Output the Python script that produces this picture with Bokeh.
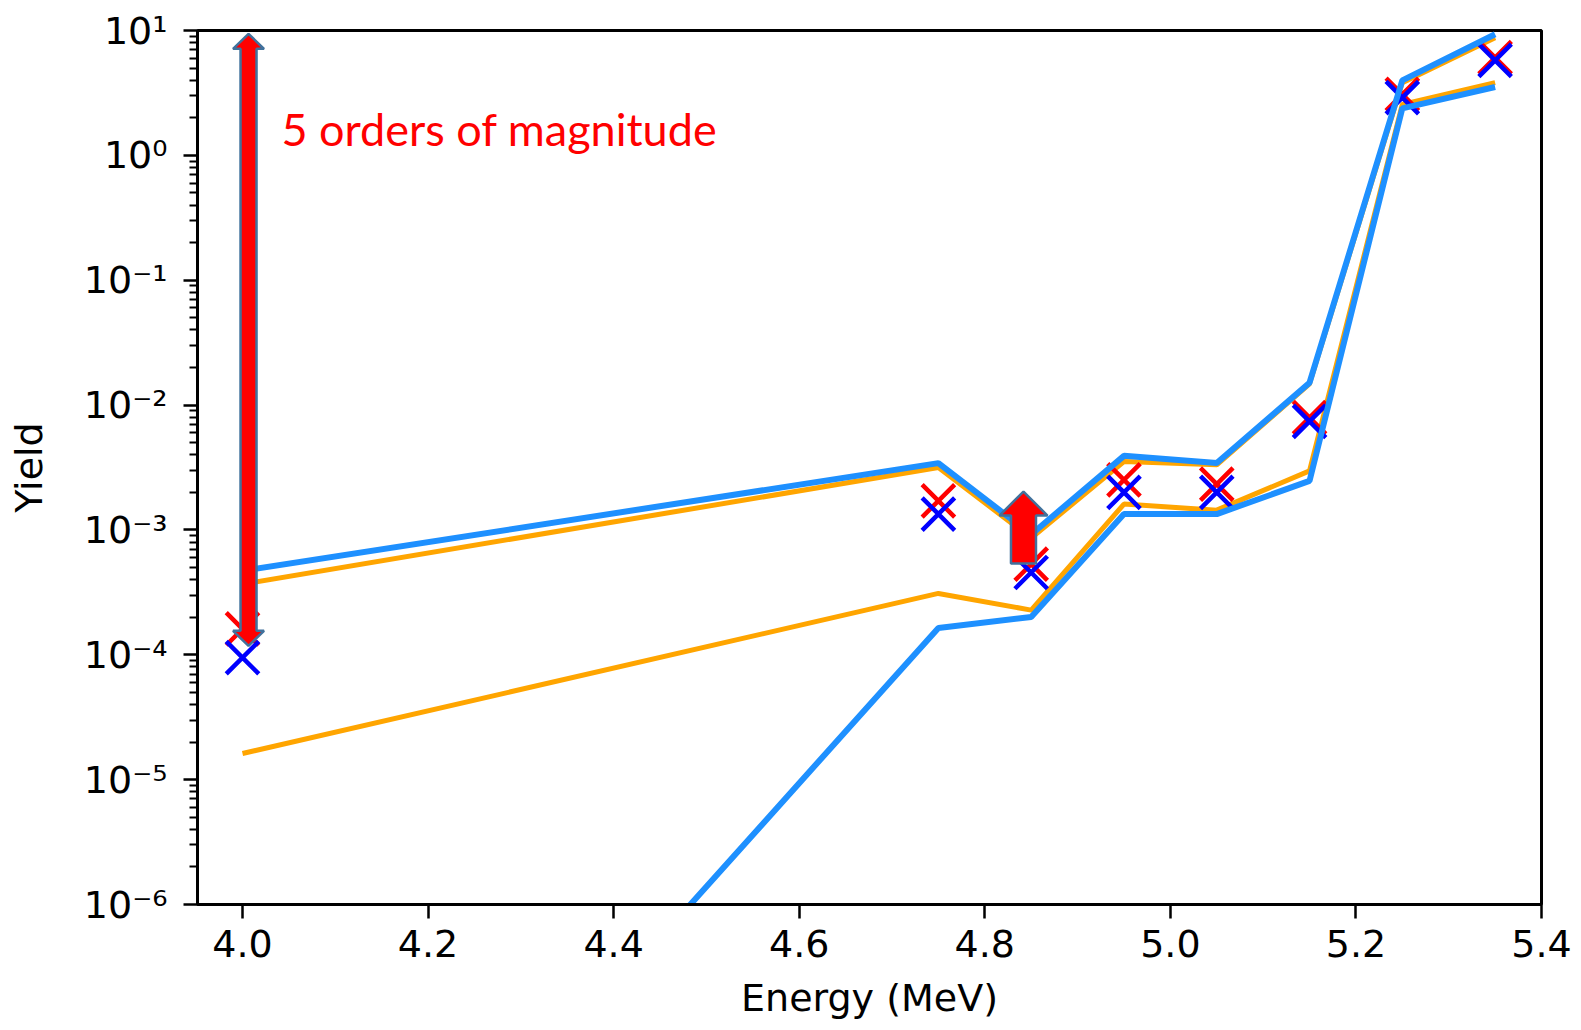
import numpy as np
from bokeh.plotting import figure
from bokeh.models import FixedTicker, CustomJSTickFormatter, Label, ColumnDataSource
from bokeh.embed import file_html
from bokeh.resources import INLINE

# ---------------- data ----------------
energy = [4.0, 4.75, 4.85, 4.95, 5.05, 5.15, 5.25, 5.35]
orange_upper = [3.68e-4, 3.16e-3, 8.6e-4, 3.53e-3, 3.32e-3, 1.48e-2, 3.82, 8.75]
blue_upper = [4.7e-4, 3.43e-3, 9.2e-4, 3.92e-3, 3.43e-3, 1.51e-2, 3.99, 9.33]
orange_lower = [1.62e-5, 3.1e-4, 2.28e-4, 1.61e-3, 1.44e-3, 2.97e-3, 2.56, 3.82]
blue_lower = [1.0e-10, 1.64e-4, 2.01e-4, 1.34e-3, 1.34e-3, 2.47e-3, 2.38, 3.53]
red_x = [1.61e-4, 1.71e-3, 5.32e-4, 2.52e-3, 2.33e-3, 7.94e-3, 3.08, 6.06]
blue_x = [9.5e-5, 1.34e-3, 4.56e-4, 2.0e-3, 2.0e-3, 7.4e-3, 2.9, 5.77]

x_ticks = [4.0, 4.2, 4.4, 4.6, 4.8, 5.0, 5.2, 5.4]
y_ticks = [1e-6, 1e-5, 1e-4, 1e-3, 1e-2, 1e-1, 1e0, 1e1]
y_minor = [k * 10.0 ** n for n in range(-6, 1) for k in range(2, 10)]

annotation_text = "5 orders of magnitude"
annotation_x = 4.042
annotation_y = 1.63

# arrows: (x, y_from, y_to) ; double-headed big arrow, single small arrow
big_arrow = (4.0065, 1.18e-4, 9.4)
small_arrow = (4.8417, 5.38e-4, 2.03e-3)

# ---------------- layout ----------------
W, H = 1581, 1030
LEFT, RIGHT, TOP, BOTTOM = 197, 40, 30, 126
x0, x1 = 3.9515, 5.4
y0, y1 = 1e-6, 1e1
frame_w = W - LEFT - RIGHT
frame_h = H - TOP - BOTTOM
px_per_x = frame_w / (x1 - x0)
px_per_dec = frame_h / (np.log10(y1) - np.log10(y0))

p = figure(width=W, height=H, x_range=(x0, x1), y_range=(y0, y1),
           y_axis_type="log", output_backend="svg", toolbar_location=None,
           min_border_left=LEFT, min_border_right=RIGHT,
           min_border_top=TOP, min_border_bottom=BOTTOM,
           background_fill_color="white", border_fill_color="white")
p.grid.visible = False
p.outline_line_color = "black"
p.outline_line_width = 3

FONT = "DejaVu Sans"
for ax in (p.xaxis[0], p.yaxis[0]):
    ax.axis_line_width = 3
    ax.major_tick_line_width = 2.5
    ax.minor_tick_line_width = 2
    ax.major_tick_out = 14
    ax.major_tick_in = 0
    ax.minor_tick_out = 8
    ax.minor_tick_in = 0
    ax.major_label_text_font = FONT
    ax.major_label_text_font_size = "38px"
    ax.major_label_text_color = "black"
    ax.axis_label_text_font = FONT
    ax.axis_label_text_font_size = "38px"
    ax.axis_label_text_font_style = "normal"
    ax.axis_label_text_color = "black"

p.xaxis.ticker = FixedTicker(ticks=x_ticks)
p.xaxis.minor_tick_line_color = None
p.xaxis.formatter = CustomJSTickFormatter(code="return tick.toFixed(1);")
p.xaxis.axis_label = "Energy (MeV)"
p.xaxis.major_label_standoff = 11
p.xaxis.axis_label_standoff = 16

p.yaxis.ticker = FixedTicker(ticks=y_ticks, minor_ticks=y_minor)
p.yaxis.formatter = CustomJSTickFormatter(code="""
const m = {"-":"\u207b","0":"\u2070","1":"\u00b9","2":"\u00b2","3":"\u00b3","4":"\u2074","5":"\u2075","6":"\u2076","7":"\u2077","8":"\u2078","9":"\u2079"};
const e = Math.round(Math.log10(tick));
return "10" + String(e).split("").map(c => m[c]).join("");
""")
p.yaxis.axis_label = "Yield"
p.yaxis.major_label_standoff = 16
p.yaxis.axis_label_standoff = 30

ORANGE = "#ffa500"
BLUE = "#1e90ff"

p.line(energy, orange_upper, line_color=ORANGE, line_width=5)
p.line(energy, orange_lower, line_color=ORANGE, line_width=5)
p.scatter(energy, red_x, marker="x", size=46, line_color="#ff0000", line_width=4.5)
p.scatter(energy, blue_x, marker="x", size=46, line_color="#0000ff", line_width=4.5)
p.line(energy, blue_upper, line_color=BLUE, line_width=6)
p.line(energy, blue_lower, line_color=BLUE, line_width=6)


def arrow_polygon(x, ya, yb, shaft_w, head_w, head_l, double):
    """Polygon (data coords) for a vertical block arrow from ya to yb; sizes in px."""
    la, lb = np.log10(ya), np.log10(yb)
    sgn = 1.0 if lb > la else -1.0
    dl = head_l / px_per_dec * sgn
    sx = shaft_w / 2 / px_per_x
    hx = head_w / 2 / px_per_x
    if double:
        xs = [x - sx, x - sx, x - hx, x, x + hx, x + sx, x + sx, x + hx, x, x - hx]
        ls = [la + dl, lb - dl, lb - dl, lb, lb - dl, lb - dl, la + dl, la + dl, la, la + dl]
    else:
        xs = [x - sx, x - sx, x - hx, x, x + hx, x + sx, x + sx]
        ls = [la, lb - dl, lb - dl, lb, lb - dl, lb - dl, la]
    return list(xs), [10.0 ** v for v in ls]


bx, by = arrow_polygon(big_arrow[0], big_arrow[1], big_arrow[2], 16, 31, 15, True)
sx_, sy_ = arrow_polygon(small_arrow[0], small_arrow[1], small_arrow[2], 25, 48, 24, False)
arrow_src = ColumnDataSource(data=dict(xs=[bx, sx_], ys=[by, sy_]))
p.patches("xs", "ys", source=arrow_src, fill_color="#ff0000",
          line_color="#41719c", line_width=2.5)

p.add_layout(Label(x=annotation_x, y=annotation_y, text=annotation_text,
                   text_font="Lato", text_font_size="45px", text_color="#ff0000",
                   text_baseline="alphabetic", text_align="left"))

open("out.html", "w").write(file_html(p, INLINE))
